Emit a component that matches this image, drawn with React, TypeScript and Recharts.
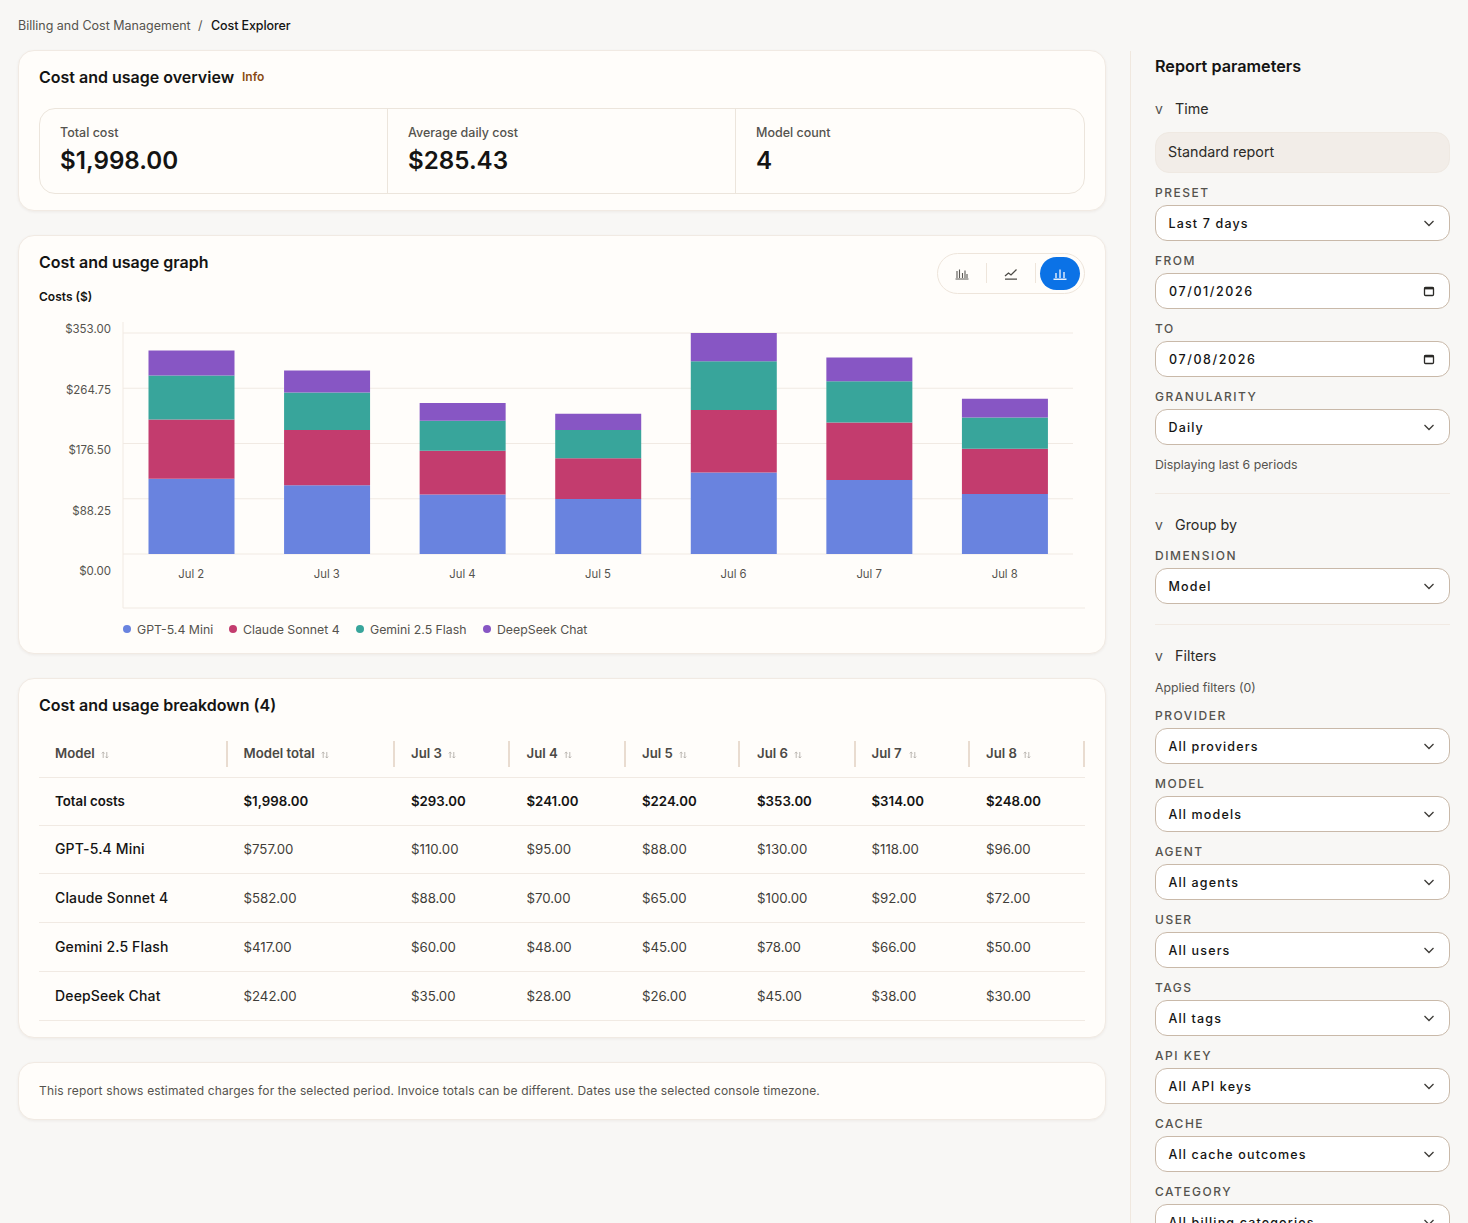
import React from "react";
import { Bar, BarChart, CartesianGrid, Legend, XAxis, YAxis } from "recharts";

const days = ["Jul 2", "Jul 3", "Jul 4", "Jul 5", "Jul 6", "Jul 7", "Jul 8"];
const gptMini = [120, 110, 95, 88, 130, 118, 96];
const claudeSonnet = [95, 88, 70, 65, 100, 92, 72];
const geminiFlash = [70, 60, 48, 45, 78, 66, 50];
const deepseekChat = [40, 35, 28, 26, 45, 38, 30];
const yTicks = [0, 88.25, 176.5, 264.75, 353];

const seriesNames = ["GPT-5.4 Mini", "Claude Sonnet 4", "Gemini 2.5 Flash", "DeepSeek Chat"];
const seriesKeys = ["gpt", "claude", "gemini", "deepseek"];
const seriesColors = ["#6983df", "#c33c6e", "#38a59b", "#8756c4"];

const tableHeaders = ["Model", "Model total", "Jul 3", "Jul 4", "Jul 5", "Jul 6", "Jul 7", "Jul 8"];
const tableRows = [
  ["Total costs", "$1,998.00", "$293.00", "$241.00", "$224.00", "$353.00", "$314.00", "$248.00"],
  ["GPT-5.4 Mini", "$757.00", "$110.00", "$95.00", "$88.00", "$130.00", "$118.00", "$96.00"],
  ["Claude Sonnet 4", "$582.00", "$88.00", "$70.00", "$65.00", "$100.00", "$92.00", "$72.00"],
  ["Gemini 2.5 Flash", "$417.00", "$60.00", "$48.00", "$45.00", "$78.00", "$66.00", "$50.00"],
  ["DeepSeek Chat", "$242.00", "$35.00", "$28.00", "$26.00", "$45.00", "$38.00", "$30.00"],
];
const columnX = [55, 243.5, 411, 526.5, 642, 757, 871.5, 986];
const sortOffsetX = [46, 77, 37, 37, 37, 37, 37, 37];
const headerRuleX = [227, 394, 509, 625, 739, 855, 969, 1084];
const rowCenterY = [801, 849, 898, 947, 996];
const rowRuleY = [777, 824.5, 873, 922, 971, 1020];

const stats = [
  { label: "Total cost", value: "$1,998.00", x: 60 },
  { label: "Average daily cost", value: "$285.43", x: 408 },
  { label: "Model count", value: "4", x: 756 },
];

const selects = [
  { label: "PRESET", value: "Last 7 days", y: 205 },
  { label: "FROM", value: "07/01/2026", y: 273, date: true },
  { label: "TO", value: "07/08/2026", y: 341, date: true },
  { label: "GRANULARITY", value: "Daily", y: 409 },
  { label: "DIMENSION", value: "Model", y: 568 },
  { label: "PROVIDER", value: "All providers", y: 728 },
  { label: "MODEL", value: "All models", y: 796 },
  { label: "AGENT", value: "All agents", y: 864 },
  { label: "USER", value: "All users", y: 932 },
  { label: "TAGS", value: "All tags", y: 1000 },
  { label: "API KEY", value: "All API keys", y: 1068 },
  { label: "CACHE", value: "All cache outcomes", y: 1136 },
  { label: "CATEGORY", value: "All billing categories", y: 1204 },
];

const chartData = days.map((day, i) => ({
  day,
  gpt: gptMini[i],
  claude: claudeSonnet[i],
  gemini: geminiFlash[i],
  deepseek: deepseekChat[i],
}));

const ink = "#141413";
const muted = "#55534e";
const rule = "#f1eae3";
const font = "Inter, sans-serif";

// y axis labels sit on a wider spacing than the gridlines in the original
const labelTop = 19;
function YTick({ x, y, payload }: any) {
  const labelY = labelTop + (y - 23) * (242 / 221);
  return (
    <text x={x - 4} y={labelY} dy={4} textAnchor="end" fontSize={11.5} fontFamily={font} fill={muted}>
      {`$${payload.value.toFixed(2)}`}
    </text>
  );
}

function XTick({ x, y, payload }: any) {
  return (
    <text x={x} y={y} dy={-38} textAnchor="middle" fontSize={11.3} fontFamily={font} fill={muted}>
      {payload.value}
    </text>
  );
}

function GridLine(props: any) {
  return <line x1={props.x1} x2={props.x2 - 12} y1={props.y1} y2={props.y2} stroke={rule} strokeWidth={1} />;
}

const legendX = [0, 106, 233, 360];
function ChartLegend() {
  return (
    <div style={{ position: "relative", height: 31 }}>
      {seriesNames.map((name, i) => (
        <div key={name} style={{ position: "absolute", left: legendX[i], top: 13, display: "flex", alignItems: "center", height: 14 }}>
          <span style={{ width: 8, height: 8, borderRadius: 4, background: seriesColors[i], marginRight: 6 }} />
          <span style={{ fontSize: 12.3, color: muted, fontFamily: font, whiteSpace: "nowrap" }}>{name}</span>
        </div>
      ))}
    </div>
  );
}

function Text({ x, y, size = 13, weight = 400, color = ink, spacing = 0, children }: any) {
  return (
    <div
      style={{
        position: "absolute",
        left: x,
        top: y - 12,
        height: 24,
        lineHeight: "24px",
        fontSize: size,
        fontWeight: weight,
        color,
        letterSpacing: spacing,
        whiteSpace: "nowrap",
      }}
    >
      {children}
    </div>
  );
}

function Card({ top, height }: { top: number; height: number }) {
  return (
    <div
      style={{
        position: "absolute",
        left: 18,
        top,
        width: 1088,
        height,
        boxSizing: "border-box",
        background: "#fffdfa",
        border: `1px solid ${rule}`,
        borderRadius: 16,
        boxShadow: "0 1px 3px rgba(60,40,20,0.06)",
      }}
    />
  );
}

function Chevron() {
  return (
    <svg width="12" height="12" viewBox="0 0 12 12" style={{ position: "absolute", right: 14, top: 11 }}>
      <path d="M1.5 4 L6 8.5 L10.5 4" fill="none" stroke="#3d3b37" strokeWidth="1.3" />
    </svg>
  );
}

function CalendarIcon() {
  return (
    <svg width="12" height="12" viewBox="0 0 12 12" style={{ position: "absolute", right: 14, top: 10.5 }}>
      <rect x="1.5" y="2.5" width="9" height="8" rx="1" fill="none" stroke="#2b2a27" strokeWidth="1.3" />
      <rect x="1.5" y="2" width="9" height="2.4" fill="#2b2a27" />
    </svg>
  );
}

function Select({ label, value, y, date }: any) {
  return (
    <>
      <Text x={1155} y={y - 12.5} size={12} weight={500} color={muted} spacing={1.5}>
        {label}
      </Text>
      <div
        style={{
          position: "absolute",
          left: 1155,
          top: y,
          width: 295,
          height: 36,
          boxSizing: "border-box",
          background: "#ffffff",
          border: "1px solid #c9b9a9",
          borderRadius: 12,
        }}
      >
        <div
          style={{
            position: "absolute",
            left: date ? 13 : 12.5,
            top: 0,
            lineHeight: "35.5px",
            fontSize: 12.5,
            fontWeight: 500,
            letterSpacing: date ? 1.6 : 1.15,
            color: ink,
            whiteSpace: "nowrap",
          }}
        >
          {value}
        </div>
        {date ? <CalendarIcon /> : <Chevron />}
      </div>
    </>
  );
}

function SortIcon({ x }: { x: number }) {
  return (
    <svg width="8" height="8" viewBox="0 0 8 8" style={{ position: "absolute", left: x, top: 750.5 }}>
      <path d="M2.2 7 V1 M0.8 2.4 L2.2 1 L3.6 2.4 M5.8 1 V7 M4.4 5.6 L5.8 7 L7.2 5.6" fill="none" stroke="#b4b0aa" strokeWidth="0.9" />
    </svg>
  );
}

function ToggleIcon({ x, color, kind }: { x: number; color: string; kind: "bars" | "line" | "stack" }) {
  return (
    <svg width="14" height="14" viewBox="0 0 14 14" style={{ position: "absolute", left: x, top: 266.5 }}>
      {kind === "line" ? (
        <path d="M1 9 L4.5 6 L7 8 L12.5 2.5 M1 12.2 H13" fill="none" stroke={color} strokeWidth="1.3" />
      ) : kind === "bars" ? (
        <path d="M2 11 V4 M4.5 11 V2.5 M7.5 11 V6 M10 11 V3.5 M12 11 V7 M0.5 12 H13.5" fill="none" stroke={color} strokeWidth="1.1" />
      ) : (
        <path d="M3 11 V6 M7 11 V2.5 M11 11 V5 M0.5 12.3 H13.5" fill="none" stroke={color} strokeWidth="1.4" />
      )}
    </svg>
  );
}

function Section({ y, children }: any) {
  return (
    <>
      <Text x={1155} y={y} size={14} color={muted}>
        v
      </Text>
      <Text x={1175} y={y} size={14.3} color="#2c2b28">
        {children}
      </Text>
    </>
  );
}

function HRule({ x, y, width, color = rule }: any) {
  return <div style={{ position: "absolute", left: x, top: y, width, height: 1, background: color }} />;
}

export default function App() {
  return (
    <div
      style={{
        position: "fixed",
        left: 0,
        top: 0,
        width: 1468,
        height: 1223,
        overflow: "hidden",
        background: "#f8f7f5",
        fontFamily: font,
      }}
    >
      <Text x={18} y={26} size={12.5} color={muted}>
        Billing and Cost Management
      </Text>
      <Text x={198} y={26} size={12.5} color={muted}>
        /
      </Text>
      <Text x={211} y={26} size={12.5} weight={500} spacing={-0.1}>
        Cost Explorer
      </Text>

      <Card top={50} height={161} />
      <Text x={39} y={77} size={16} weight={600}>
        Cost and usage overview
      </Text>
      <Text x={242} y={77} size={12} weight={600} color="#8a4a12">
        Info
      </Text>
      <div
        style={{
          position: "absolute",
          left: 39,
          top: 108,
          width: 1046,
          height: 86,
          boxSizing: "border-box",
          border: "1px solid #ece5dc",
          borderRadius: 16,
        }}
      />
      <div style={{ position: "absolute", left: 387, top: 108, width: 1, height: 86, background: "#ece5dc" }} />
      <div style={{ position: "absolute", left: 735, top: 108, width: 1, height: 86, background: "#ece5dc" }} />
      {stats.map((s) => (
        <React.Fragment key={s.label}>
          <Text x={s.x} y={132.5} size={12.5} weight={500} color={muted}>
            {s.label}
          </Text>
          <Text x={s.x} y={160.5} size={24.2} weight={600}>
            {s.value}
          </Text>
        </React.Fragment>
      ))}

      <Card top={235} height={419} />
      <Text x={39} y={262} size={16} weight={600}>
        Cost and usage graph
      </Text>
      <Text x={39} y={297} size={12} weight={600}>
        Costs ($)
      </Text>
      <div
        style={{
          position: "absolute",
          left: 937,
          top: 253,
          width: 148,
          height: 41,
          boxSizing: "border-box",
          border: "1px solid #eee5db",
          borderRadius: 21,
        }}
      />
      <div style={{ position: "absolute", left: 986, top: 263, width: 1, height: 20, background: "#eee5db" }} />
      <div style={{ position: "absolute", left: 1035, top: 263, width: 1, height: 20, background: "#eee5db" }} />
      <div style={{ position: "absolute", left: 1040, top: 257, width: 40, height: 33, borderRadius: 17, background: "#0b72e6" }} />
      <ToggleIcon x={955} color="#5a5853" kind="bars" />
      <ToggleIcon x={1004} color="#4c4a46" kind="line" />
      <ToggleIcon x={1053} color="#e6f0fd" kind="stack" />

      <div style={{ position: "absolute", left: 18, top: 310 }}>
        <BarChart width={1067} height={330} data={chartData} margin={{ top: 12, right: 0, bottom: 0, left: 0 }}>
          <CartesianGrid vertical={false} horizontal={GridLine} syncWithTicks />
          <XAxis
            dataKey="day"
            height={1}
            padding={{ left: 0.5, right: 12.5 }}
            axisLine={{ stroke: rule }}
            tickLine={false}
            interval={0}
            tick={XTick}
          />
          <YAxis
            width={105}
            domain={[0, 353]}
            ticks={yTicks}
            padding={{ top: 11, bottom: 54 }}
            axisLine={{ stroke: rule }}
            tickLine={false}
            tick={YTick}
          />
          <Legend verticalAlign="bottom" align="left" height={31} wrapperStyle={{ left: 105 }} content={ChartLegend} />
          {seriesKeys.map((key, i) => (
            <Bar key={key} dataKey={key} name={seriesNames[i]} stackId="cost" fill={seriesColors[i]} barSize={86} isAnimationActive={false} />
          ))}
        </BarChart>
      </div>

      <Card top={678} height={360} />
      <Text x={39} y={705} size={16} weight={600}>
        Cost and usage breakdown (4)
      </Text>
      {tableHeaders.map((h, i) => (
        <Text key={h} x={columnX[i]} y={753} size={13.2} weight={600} color="#4b4945">
          {h}
        </Text>
      ))}
      {sortOffsetX.map((w, i) => (
        <SortIcon key={i} x={columnX[i] + w} />
      ))}
      {headerRuleX.map((x) => (
        <div key={x} style={{ position: "absolute", left: x - 1, top: 741, width: 2, height: 26, background: "#e9dcd0" }} />
      ))}
      {rowRuleY.map((y) => (
        <HRule key={y} x={39} y={y} width={1046} />
      ))}
      {tableRows.map((row, r) =>
        row.map((cell, c) => (
          <Text
            key={`${r}-${c}`}
            x={columnX[c]}
            y={rowCenterY[r]}
            size={c === 0 && r > 0 ? 14 : 13.25}
            weight={r === 0 ? 600 : c === 0 ? 500 : 400}
            spacing={c === 0 && r > 0 ? 0.15 : 0}
            color={r === 0 || c === 0 ? ink : "#3f3d39"}
          >
            {cell}
          </Text>
        ))
      )}

      <Card top={1062} height={58} />
      <Text x={39} y={1091} size={12} color={muted} spacing={0.16}>
        This report shows estimated charges for the selected period. Invoice totals can be different. Dates use the selected console timezone.
      </Text>

      <div style={{ position: "absolute", left: 1130, top: 51, width: 1, height: 1172, background: "#f0e8df" }} />
      <Text x={1155} y={66} size={16.2} weight={600}>
        Report parameters
      </Text>
      <Section y={109}>Time</Section>
      <div
        style={{
          position: "absolute",
          left: 1155,
          top: 132,
          width: 295,
          height: 41,
          boxSizing: "border-box",
          background: "#f2ede8",
          border: "1px solid #efe9e2",
          borderRadius: 14,
        }}
      />
      <Text x={1168} y={152} size={14.3} color="#2c2b28">
        Standard report
      </Text>
      {selects.map((s) => (
        <Select key={s.label} {...s} />
      ))}
      <Text x={1155} y={465} size={12.3} color={muted}>
        Displaying last 6 periods
      </Text>
      <HRule x={1155} y={493} width={295} />
      <Section y={525}>Group by</Section>
      <HRule x={1155} y={624} width={295} />
      <Section y={656}>Filters</Section>
      <Text x={1155} y={688} size={12.3} color={muted}>
        Applied filters (0)
      </Text>
    </div>
  );
}
